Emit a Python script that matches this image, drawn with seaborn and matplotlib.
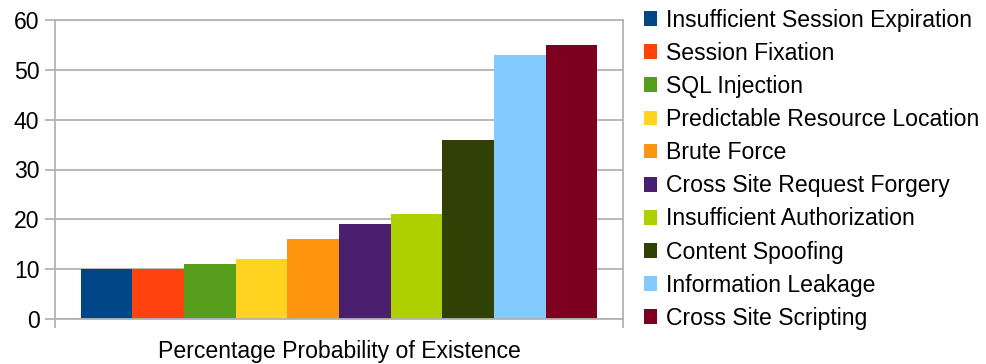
import matplotlib
matplotlib.use("Agg")
import matplotlib.pyplot as plt
import seaborn as sns
import pandas as pd

category = "Percentage Probability of Existence"
series = [
    "Insufficient Session Expiration",
    "Session Fixation",
    "SQL Injection",
    "Predictable Resource Location",
    "Brute Force",
    "Cross Site Request Forgery",
    "Insufficient Authorization",
    "Content Spoofing",
    "Information Leakage",
    "Cross Site Scripting",
]
values = [10, 10, 11, 12, 16, 19, 21, 36, 53, 55]
colors = ["#004586", "#ff420e", "#579d1c", "#ffd320", "#ff950e",
          "#4b1f6f", "#aecf00", "#314004", "#83caff", "#7e0021"]
y_ticks = [0, 10, 20, 30, 40, 50, 60]

sns.set_style("white")
plt.rcParams["font.family"] = ["Liberation Sans", "DejaVu Sans"]
plt.rcParams["text.color"] = "#000000"

df = pd.DataFrame({"category": [category] * len(series), "series": series, "value": values})

W, H = 987, 364
fig = plt.figure(figsize=(W / 100, H / 100), dpi=100)
ax = fig.add_axes([55 / W, (H - 319) / H, 568 / W, 299 / H])

sns.barplot(data=df, x="category", y="value", hue="series", hue_order=series,
            palette=colors, width=0.91, dodge=True, saturation=1,
            linewidth=0, ax=ax, legend=True)

grey = "#b3b3b3"
fs = 16.6
ax.set_ylim(0, 60)
ax.set_xlim(-0.5, 0.5)
ax.set_yticks(y_ticks)
ax.set_yticklabels([str(t) for t in y_ticks], fontsize=fs, color="#000000")
ax.yaxis.grid(True, color=grey, linewidth=1.3)
ax.set_axisbelow(True)
ax.tick_params(axis="y", direction="out", length=7.2, width=1.3, color=grey, pad=4, left=True)

# category boundaries as ticks, category name centred below
ax.set_xticks([-0.5, 0.5])
ax.set_xticklabels(["", ""])
ax.tick_params(axis="x", direction="out", length=6.5, width=1.3, color=grey, bottom=True)
ax.set_xticks([0], minor=True)
ax.set_xticklabels([category], minor=True, fontsize=fs, color="#000000")
ax.tick_params(axis="x", which="minor", length=0, pad=15)
ax.set_xlabel("")
ax.set_ylabel("")

for side in ["left", "right", "top", "bottom"]:
    ax.spines[side].set_visible(True)
    ax.spines[side].set_color(grey)
    ax.spines[side].set_linewidth(1.3)

handles, labels = ax.get_legend_handles_labels()
ax.get_legend().remove()
leg = fig.legend(handles, labels, loc="upper left",
                 bbox_to_anchor=(639 / W, 1 - 4 / H), frameon=False,
                 fontsize=fs, handlelength=0.6, handleheight=0.6,
                 handletextpad=0.35, labelspacing=0.44, borderaxespad=0,
                 borderpad=0.2)
for t in leg.get_texts():
    t.set_color("#000000")

fig.savefig("out.png", dpi=100)
